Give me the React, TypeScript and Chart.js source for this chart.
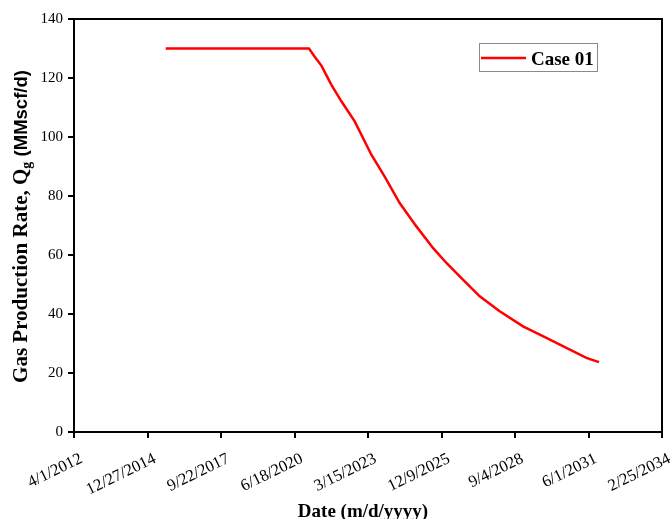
import React, { useEffect, useRef } from "react";
import { Chart, registerables } from "chart.js";

Chart.register(...registerables);

const seriesLabel = "Case 01";
const dates = [
  "2015-09-01", "2021-01-01", "2021-03-20", "2021-06-19", "2021-11-02",
  "2022-03-18", "2022-09-15", "2023-04-30", "2023-10-28", "2024-05-19",
  "2025-01-01", "2025-08-15", "2026-02-14", "2026-09-06", "2027-05-13",
  "2028-02-09", "2028-12-22", "2029-11-05", "2030-08-04", "2031-05-03",
  "2031-10-22",
];
const rates = [
  130, 130, 127.2, 124.2, 117.7, 112.1, 105.3, 94, 86.6, 77.6, 69.7, 62.4,
  57.3, 52.2, 46, 40.9, 35.8, 31.9, 28.5, 25.1, 23.7,
];
const xTickDates = [
  "2012-04-01", "2014-12-27", "2017-09-22", "2020-06-18", "2023-03-15",
  "2025-12-09", "2028-09-04", "2031-06-01", "2034-02-25",
];
const yTicks = [0, 20, 40, 60, 80, 100, 120, 140];
const xTitle = "Date (m/d/yyyy)";
const yTitleMain = "Gas Production Rate, Q";
const yTitleSub = "g";
const yTitleUnit = "(MMscf/d)";

const toMs = (s: string) => {
  const [y, m, d] = s.split("-").map(Number);
  return Date.UTC(y, m - 1, d);
};
const fmt = (ms: number) => {
  const d = new Date(ms);
  return `${d.getUTCMonth() + 1}/${d.getUTCDate()}/${d.getUTCFullYear()}`;
};

const SERIF = "'Liberation Serif', 'Times New Roman', serif";
const SANS = "'Liberation Sans', Arial, sans-serif";

const decor = {
  id: "decor",
  afterDraw(chart: any) {
    const { ctx, chartArea: a } = chart;
    ctx.save();
    // frame top/right
    ctx.strokeStyle = "#000";
    ctx.lineWidth = 2;
    ctx.beginPath();
    ctx.moveTo(a.left - 1, a.top);
    ctx.lineTo(a.right, a.top);
    ctx.lineTo(a.right, a.bottom + 1);
    ctx.stroke();

    // x tick labels (rotated, drawn at the scale's tick pixels)
    const xs = chart.scales.x;
    ctx.fillStyle = "#000";
    ctx.font = `16.5px ${SERIF}`;
    ctx.textAlign = "right";
    ctx.textBaseline = "middle";
    for (const t of xs.ticks) {
      const px = xs.getPixelForValue(t.value);
      ctx.save();
      ctx.translate(px + 7.5, a.bottom + 26);
      ctx.rotate((-26 * Math.PI) / 180);
      ctx.fillText(fmt(t.value), 0, 0);
      ctx.restore();
    }

    // legend
    const lx = a.right - 183;
    const ly = a.top + 24;
    ctx.strokeStyle = "#8a8a8a";
    ctx.lineWidth = 1;
    ctx.strokeRect(lx + 0.5, ly + 0.5, 118, 28);
    ctx.strokeStyle = "#ff0000";
    ctx.lineWidth = 2.5;
    ctx.beginPath();
    ctx.moveTo(lx + 2, ly + 15);
    ctx.lineTo(lx + 47, ly + 15);
    ctx.stroke();
    ctx.fillStyle = "#000";
    ctx.font = `bold 19px ${SERIF}`;
    ctx.textAlign = "left";
    ctx.textBaseline = "alphabetic";
    ctx.fillText(chart.data.datasets[0].label, lx + 52, ly + 22);

    // x title
    ctx.textAlign = "center";
    ctx.font = `bold 19px ${SERIF}`;
    ctx.fillText(xTitle, (a.left + a.right) / 2 - 5, 517);

    // y title
    const mainFont = `bold 21px ${SERIF}`;
    const subFont = `bold 14px ${SERIF}`;
    const unitFont = `bold 18.5px ${SANS}`;
    ctx.font = mainFont;
    const w1 = ctx.measureText(yTitleMain).width;
    ctx.font = subFont;
    const w2 = ctx.measureText(yTitleSub).width;
    ctx.font = mainFont;
    const wsp = ctx.measureText(" ").width;
    ctx.font = unitFont;
    const w3 = ctx.measureText(yTitleUnit).width;
    const total = w1 + w2 + wsp + w3;
    const cy = (a.top + a.bottom) / 2 + 1;
    ctx.translate(27, cy);
    ctx.rotate(-Math.PI / 2);
    ctx.textAlign = "left";
    let x = -total / 2;
    ctx.font = mainFont;
    ctx.fillText(yTitleMain, x, 0);
    x += w1;
    ctx.font = subFont;
    ctx.fillText(yTitleSub, x, 4);
    x += w2 + wsp;
    ctx.font = unitFont;
    ctx.fillText(yTitleUnit, x, 0);
    ctx.restore();
  },
};

export default function App() {
  const ref = useRef<HTMLCanvasElement>(null);
  useEffect(() => {
    document.body.style.margin = "0";
    const xTicks = xTickDates.map(toMs);
    const chart = new Chart(ref.current!, {
      type: "line",
      data: {
        datasets: [
          {
            label: seriesLabel,
            data: dates.map((d, i) => ({ x: toMs(d), y: rates[i] })),
            borderColor: "#ff0000",
            backgroundColor: "#ff0000",
            borderWidth: 2.5,
            pointRadius: 0,
            tension: 0,
            fill: false,
          },
        ],
      },
      options: {
        responsive: false,
        animation: false,
        devicePixelRatio: 1,
        layout: { padding: { top: 19, right: 9, left: 0, bottom: 0 } },
        plugins: { legend: { display: false }, tooltip: { enabled: false } },
        scales: {
          x: {
            type: "linear",
            min: xTicks[0],
            max: xTicks[xTicks.length - 1],
            afterBuildTicks: (s: any) => {
              s.ticks = xTicks.map((v) => ({ value: v }));
            },
            afterFit: (s: any) => {
              s.height = 87;
            },
            border: { display: true, color: "#000", width: 2 },
            grid: {
              display: true,
              drawOnChartArea: false,
              drawTicks: true,
              tickLength: 6,
              color: "#000",
              lineWidth: 2,
            },
            ticks: {
              display: false,
              autoSkip: false,
            },
          },
          y: {
            type: "linear",
            min: 0,
            max: 140,
            afterBuildTicks: (s: any) => {
              s.ticks = yTicks.map((v) => ({ value: v }));
            },
            afterFit: (s: any) => {
              s.width = 74;
            },
            border: { display: true, color: "#000", width: 2 },
            grid: {
              display: true,
              drawOnChartArea: false,
              drawTicks: true,
              tickLength: 6,
              color: "#000",
              lineWidth: 2,
            },
            ticks: {
              padding: 5,
              color: "#000",
              font: { family: SERIF, size: 15 },
            },
          },
        },
      },
      plugins: [decor],
    });
    return () => chart.destroy();
  }, []);
  return <canvas ref={ref} width={671} height={519} style={{ display: "block" }} />;
}
